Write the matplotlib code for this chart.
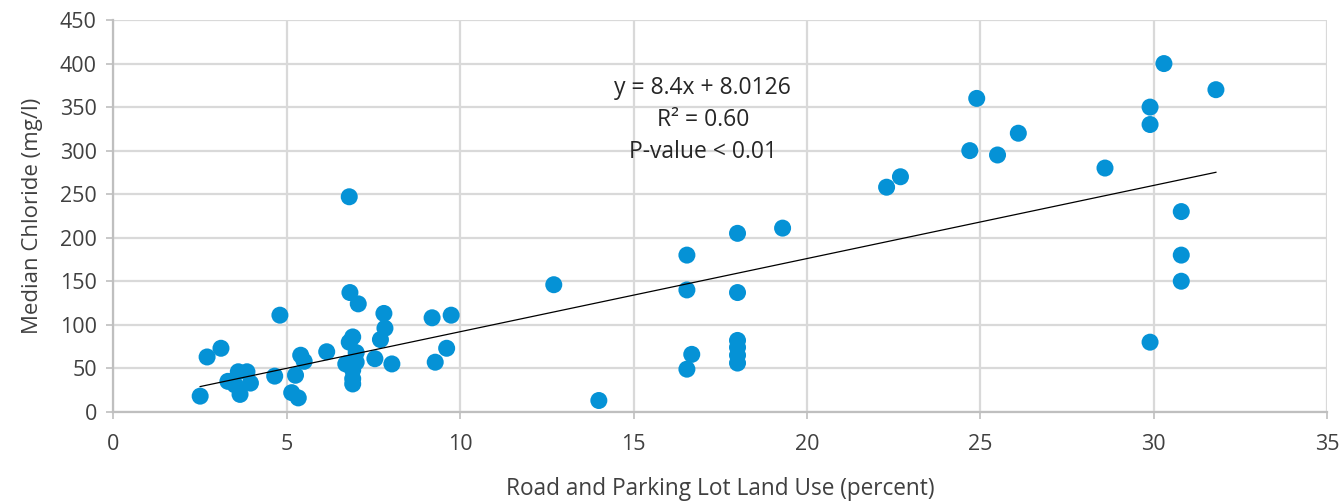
import matplotlib
matplotlib.use("Agg")
import matplotlib.pyplot as plt
import numpy as np

# Road and parking lot land use (percent) vs. median chloride (mg/l)
road_pct = [
    2.5, 2.7, 3.1, 3.3, 3.5, 3.6, 3.65, 3.85, 3.95,
    4.65, 4.8, 5.14, 5.33, 5.25, 5.4, 5.5, 6.15,
    6.8, 6.82, 7.06, 6.9, 6.8, 7.0, 6.7, 7.0, 6.9, 6.9, 6.9,
    7.8, 7.83, 7.7, 7.54, 8.03, 9.19, 9.74, 9.61, 9.28,
    12.7, 14.0, 16.54, 16.54, 16.68, 16.54,
    18.0, 18.0, 18.0, 18.0, 18.0, 18.0, 19.3,
    22.3, 22.7, 24.7, 24.9, 25.5, 26.1, 28.6,
    29.9, 29.9, 30.3, 31.8, 30.8, 30.8, 30.8, 29.9,
]
chloride = [
    18, 63, 73, 35, 31, 46, 20, 46, 33,
    41, 111, 22, 16, 42, 65, 58, 69,
    247, 137, 124, 86, 80, 68, 55, 57, 48, 38, 32,
    113, 96, 83, 61, 55, 108, 111, 73, 57,
    146, 13, 180, 140, 66, 49,
    205, 137, 82, 74, 65, 56, 211,
    258, 270, 300, 360, 295, 320, 280,
    350, 330, 400, 370, 230, 180, 150, 80,
]

# Linear trend
slope = 8.4
intercept = 8.0126
r_squared = 0.60

x_ticks = [0, 5, 10, 15, 20, 25, 30, 35]
y_ticks = [0, 50, 100, 150, 200, 250, 300, 350, 400, 450]

plt.rcParams['font.family'] = ['Open Sans', 'DejaVu Sans']

fig = plt.figure(figsize=(13.4, 5.01), dpi=100)
ax = fig.add_axes([0.0847, 0.178, 0.9055, 0.782])

grid_color = '#D9D9D9'
ax.set_xlim(0, 35)
ax.set_ylim(0, 450)
ax.set_xticks(x_ticks)
ax.set_yticks(y_ticks)
ax.grid(True, color=grid_color, linewidth=1.6, zorder=0)
ax.set_axisbelow(True)

for side in ['top', 'right']:
    ax.spines[side].set_visible(False)
for side in ['left', 'bottom']:
    ax.spines[side].set_color('#BFBFBF')
    ax.spines[side].set_linewidth(1.6)

ax.tick_params(axis='both', colors='#BFBFBF', length=5, width=1.2,
               labelcolor='#404040', labelsize=15.5)
ax.tick_params(axis='x', pad=11)
ax.tick_params(axis='y', pad=7)

ax.scatter(road_pct, chloride, s=150, color='#0592D6', edgecolors='none', zorder=3)

xl = np.array([min(road_pct), max(road_pct)])
ax.plot(xl, slope * xl + intercept, color='black', linewidth=0.9, zorder=4)

text_kw = dict(ha='center', va='center', fontsize=16.5, color='#262626')
ax.text(17.0, 372, f"y = {slope}x + {intercept}", **text_kw)
ax.text(17.0, 335, f"R² = {r_squared:.2f}", **text_kw)
ax.text(17.0, 298, "P-value < 0.01", **text_kw)

ax.set_xlabel('Road and Parking Lot Land Use (percent)', fontsize=16.3,
              color='#404040', labelpad=16)
ax.set_ylabel('Median Chloride (mg/l)', fontsize=16, color='#404040', labelpad=12)

fig.savefig('out.png', dpi=100)
